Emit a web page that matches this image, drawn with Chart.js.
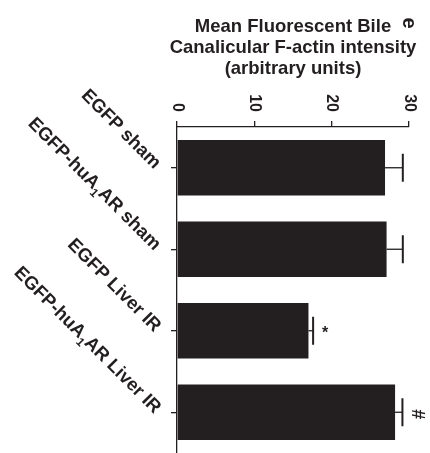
<!DOCTYPE html>
<html>
<head>
<meta charset="utf-8">
<script src="https://cdn.jsdelivr.net/npm/chart.js@4"></script>
<style>
  html, body { margin: 0; padding: 0; background: #fff; }
  canvas { display: block; }
</style>
</head>
<body>
<canvas id="chart" width="430" height="453"></canvas>
<script>
// data
const groups = ['EGFP sham', 'EGFP-huA₁AR sham', 'EGFP Liver IR', 'EGFP-huA₁AR Liver IR'];
const means = [26.9, 27.1, 17.0, 28.2];
const sems = [2.3, 2.1, 0.6, 0.95];
const marks = ['', '', '*', '#'];
const xTicks = [0, 10, 20, 30];
const titleLines = ['Mean Fluorescent Bile', 'Canalicular F-actin intensity', '(arbitrary units)'];
const panel = 'e';

const ink = '#231f20';
const fam = '"Liberation Sans", Arial, Helvetica, sans-serif';

// text right-aligned on the origin, '₁' drawn as a real subscript
function drawRight(ctx, text, size) {
  const parts = text.split('₁');
  const big = `bold ${size}px ${fam}`;
  const small = `bold ${Math.round(size * 0.65)}px ${fam}`;
  ctx.font = big;
  let total = 0;
  const widths = parts.map(p => ctx.measureText(p).width);
  widths.forEach(w => total += w);
  ctx.font = small;
  const subW = ctx.measureText('1').width;
  total += subW * (parts.length - 1);
  let x = -total;
  ctx.textAlign = 'left';
  parts.forEach((p, i) => {
    ctx.font = big;
    ctx.fillText(p, x, 0);
    x += widths[i];
    if (i < parts.length - 1) {
      ctx.font = small;
      ctx.fillText('1', x, 5);
      x += subW;
    }
  });
}

const extras = {
  id: 'extras',
  afterDatasetsDraw(chart) {
    const ctx = chart.ctx;
    const xs = chart.scales.x;
    const meta = chart.getDatasetMeta(0);
    ctx.save();
    ctx.strokeStyle = ink;
    ctx.fillStyle = ink;
    meta.data.forEach((bar, i) => {
      const y = bar.y;
      const x0 = xs.getPixelForValue(means[i]);
      const x1 = xs.getPixelForValue(means[i] + sems[i]);
      ctx.lineWidth = 1.3;
      ctx.beginPath();
      ctx.moveTo(x0, y);
      ctx.lineTo(x1, y);
      ctx.stroke();
      ctx.lineWidth = 2;
      ctx.beginPath();
      ctx.moveTo(x1, y - 14);
      ctx.lineTo(x1, y + 14);
      ctx.stroke();
      if (marks[i] === '*') {
        ctx.font = `bold 16px ${fam}`;
        ctx.textAlign = 'center';
        ctx.textBaseline = 'middle';
        ctx.fillText('*', x1 + 12, y + 3);
      } else if (marks[i]) {
        ctx.save();
        ctx.translate(x1 + 15, y + 2);
        ctx.rotate(Math.PI / 2);
        ctx.font = `bold 18px ${fam}`;
        ctx.textAlign = 'center';
        ctx.textBaseline = 'middle';
        ctx.fillText(marks[i], 0, 0);
        ctx.restore();
      }
    });
    ctx.restore();
  },
  afterDraw(chart) {
    const ctx = chart.ctx;
    const xs = chart.scales.x;
    const ys = chart.scales.y;
    ctx.save();
    ctx.fillStyle = ink;

    // title
    ctx.font = `bold 18.5px ${fam}`;
    ctx.textAlign = 'center';
    ctx.textBaseline = 'alphabetic';
    titleLines.forEach((t, i) => ctx.fillText(t, 293, 32 + i * 21));

    // panel letter
    ctx.save();
    ctx.translate(409, 23);
    ctx.rotate(Math.PI / 2);
    ctx.font = `bold 20px ${fam}`;
    ctx.textAlign = 'center';
    ctx.textBaseline = 'middle';
    ctx.fillText(panel, 0, 0);
    ctx.restore();

    // value tick labels, turned a quarter clockwise
    xs.ticks.forEach(t => {
      ctx.save();
      ctx.translate(xs.getPixelForValue(t.value), 112);
      ctx.rotate(Math.PI / 2);
      ctx.font = `bold 16px ${fam}`;
      ctx.textAlign = 'right';
      ctx.textBaseline = 'middle';
      ctx.fillText(String(t.value), 0, 0);
      ctx.restore();
    });

    // group labels at 45 degrees
    groups.forEach((g, i) => {
      ctx.save();
      ctx.translate(xs.left - 23, ys.getPixelForValue(i) + 2);
      ctx.rotate(Math.PI / 4);
      ctx.textBaseline = 'alphabetic';
      drawRight(ctx, g, 18.5);
      ctx.restore();
    });
    ctx.restore();
  }
};

new Chart(document.getElementById('chart'), {
  type: 'bar',
  data: {
    labels: groups,
    datasets: [{
      data: means,
      backgroundColor: ink,
      borderWidth: 0,
      barPercentage: 0.68,
      categoryPercentage: 1
    }]
  },
  options: {
    indexAxis: 'y',
    responsive: false,
    animation: false,
    layout: { padding: { top: 121, left: 171, right: 21, bottom: 0 } },
    plugins: { legend: { display: false }, tooltip: { enabled: false } },
    scales: {
      x: {
        position: 'top',
        min: xTicks[0],
        max: xTicks[xTicks.length - 1],
        ticks: { display: false, stepSize: xTicks[1] - xTicks[0] },
        grid: { drawOnChartArea: false, drawTicks: true, tickLength: 6, color: ink, lineWidth: 1.3 },
        border: { display: true, color: ink, width: 1.3 }
      },
      y: {
        ticks: { display: false },
        grid: { offset: false, drawOnChartArea: false, drawTicks: true, tickLength: 6, color: ink, lineWidth: 1.3 },
        border: { display: true, color: ink, width: 1.3 }
      }
    }
  },
  plugins: [extras]
});
</script>
</body>
</html>
